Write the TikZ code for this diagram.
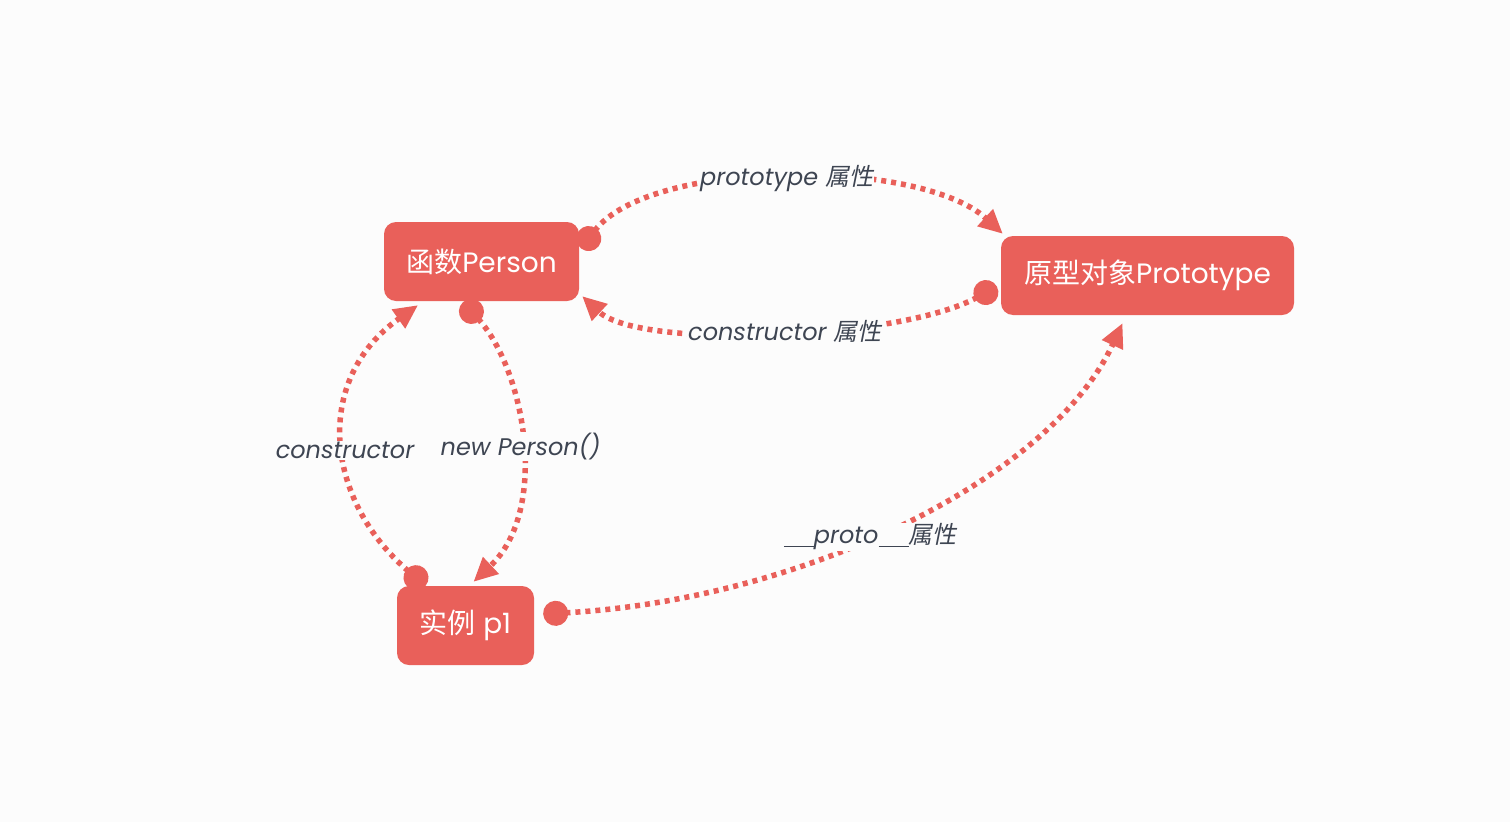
\documentclass[tikz,border=0pt]{standalone}
\usepackage{fontspec}
\setmainfont{Poppins}
\newfontfamily\cjk{Noto Sans CJK SC}
\newfontfamily\cjkit{Noto Sans CJK SC}[FakeSlant=0.2]
\usetikzlibrary{arrows.meta,calc,positioning}
\definecolor{boxred}{HTML}{E9605A}
\definecolor{labelgray}{HTML}{3E4552}
\definecolor{paper}{HTML}{FCFCFC}
\tikzset{
%Style for the red boxes
box/.style={fill=boxred, rounded corners=12pt, text=white,
  font=\fontsize{28}{32}\selectfont, minimum height=79pt, inner sep=0pt},
%Style for the dotted links, dot at the start, arrow at the end
link/.style={boxred, line width=5.5pt, dash pattern=on 5pt off 5pt,
  {Circle[length=25pt]}-{Triangle[length=24pt,width=22pt]}},
%Style for the labels sitting on the links
lbl/.style={fill=paper, text=labelgray, inner sep=1pt,
  font=\fontsize{24}{28}\selectfont\itshape},
}
\newcommand\uline{\rule[-3pt]{30pt}{1.3pt}}

\begin{document}
\begin{tikzpicture}[x=1pt,y=-1pt]
    \useasboundingbox[fill=paper] (0,0) rectangle (1510,822);
    %Draw the boxes
    \node[box, minimum width=195pt] (person) at (481.5,261.5) {{\cjk 函数}Person};
    \node[box, minimum width=293pt] (proto) at (1147.5,275.5) {{\cjk 原型对象}Prototype};
    \node[box, minimum width=137pt] (p1) at (465.5,625.5) {{\cjk 实例} p1};
    %Function to prototype
    \draw[link] ($(person.east)+(2,-13)$) .. controls (650,158) and (920,158) ..
      ($(proto.north west)+(2,-2)$)
      node[lbl, pos=0.5] (lblprototype) {prototype {\cjkit 属性}};
    %Prototype back to function
    \draw[link] ($(proto.west)+(-4,11)$) .. controls (900,340) and (640,350) ..
      ($(person.south east)+(3,-5)$)
      node[lbl, pos=0.48] (lblctorattr) {constructor {\cjkit 属性}};
    %Function to instance
    \draw[link] ($(person.south)+(-18.5,1)$) .. controls (525,370) and (550,510) ..
      ($(p1.north)+(8,-4)$)
      node[lbl, pos=0.52] (lblnew) {new Person()};
    %Instance back to function
    \draw[link] ($(p1.north)+(-40,0)$) .. controls (325,500) and (312,380) ..
      ($(person.south)+(-63.5,4)$)
      node[lbl, pos=0.47] (lblctor) {constructor};
    %Instance to prototype
    \draw[link] ($(p1.east)+(9,-11.5)$) .. controls (800,600) and (1050,480) ..
      ($(proto.south)+(-25,8)$)
      node[lbl, pos=0.45] (lbl__proto) {\uline proto\uline{\cjkit 属性}};
\end{tikzpicture}
\end{document}
